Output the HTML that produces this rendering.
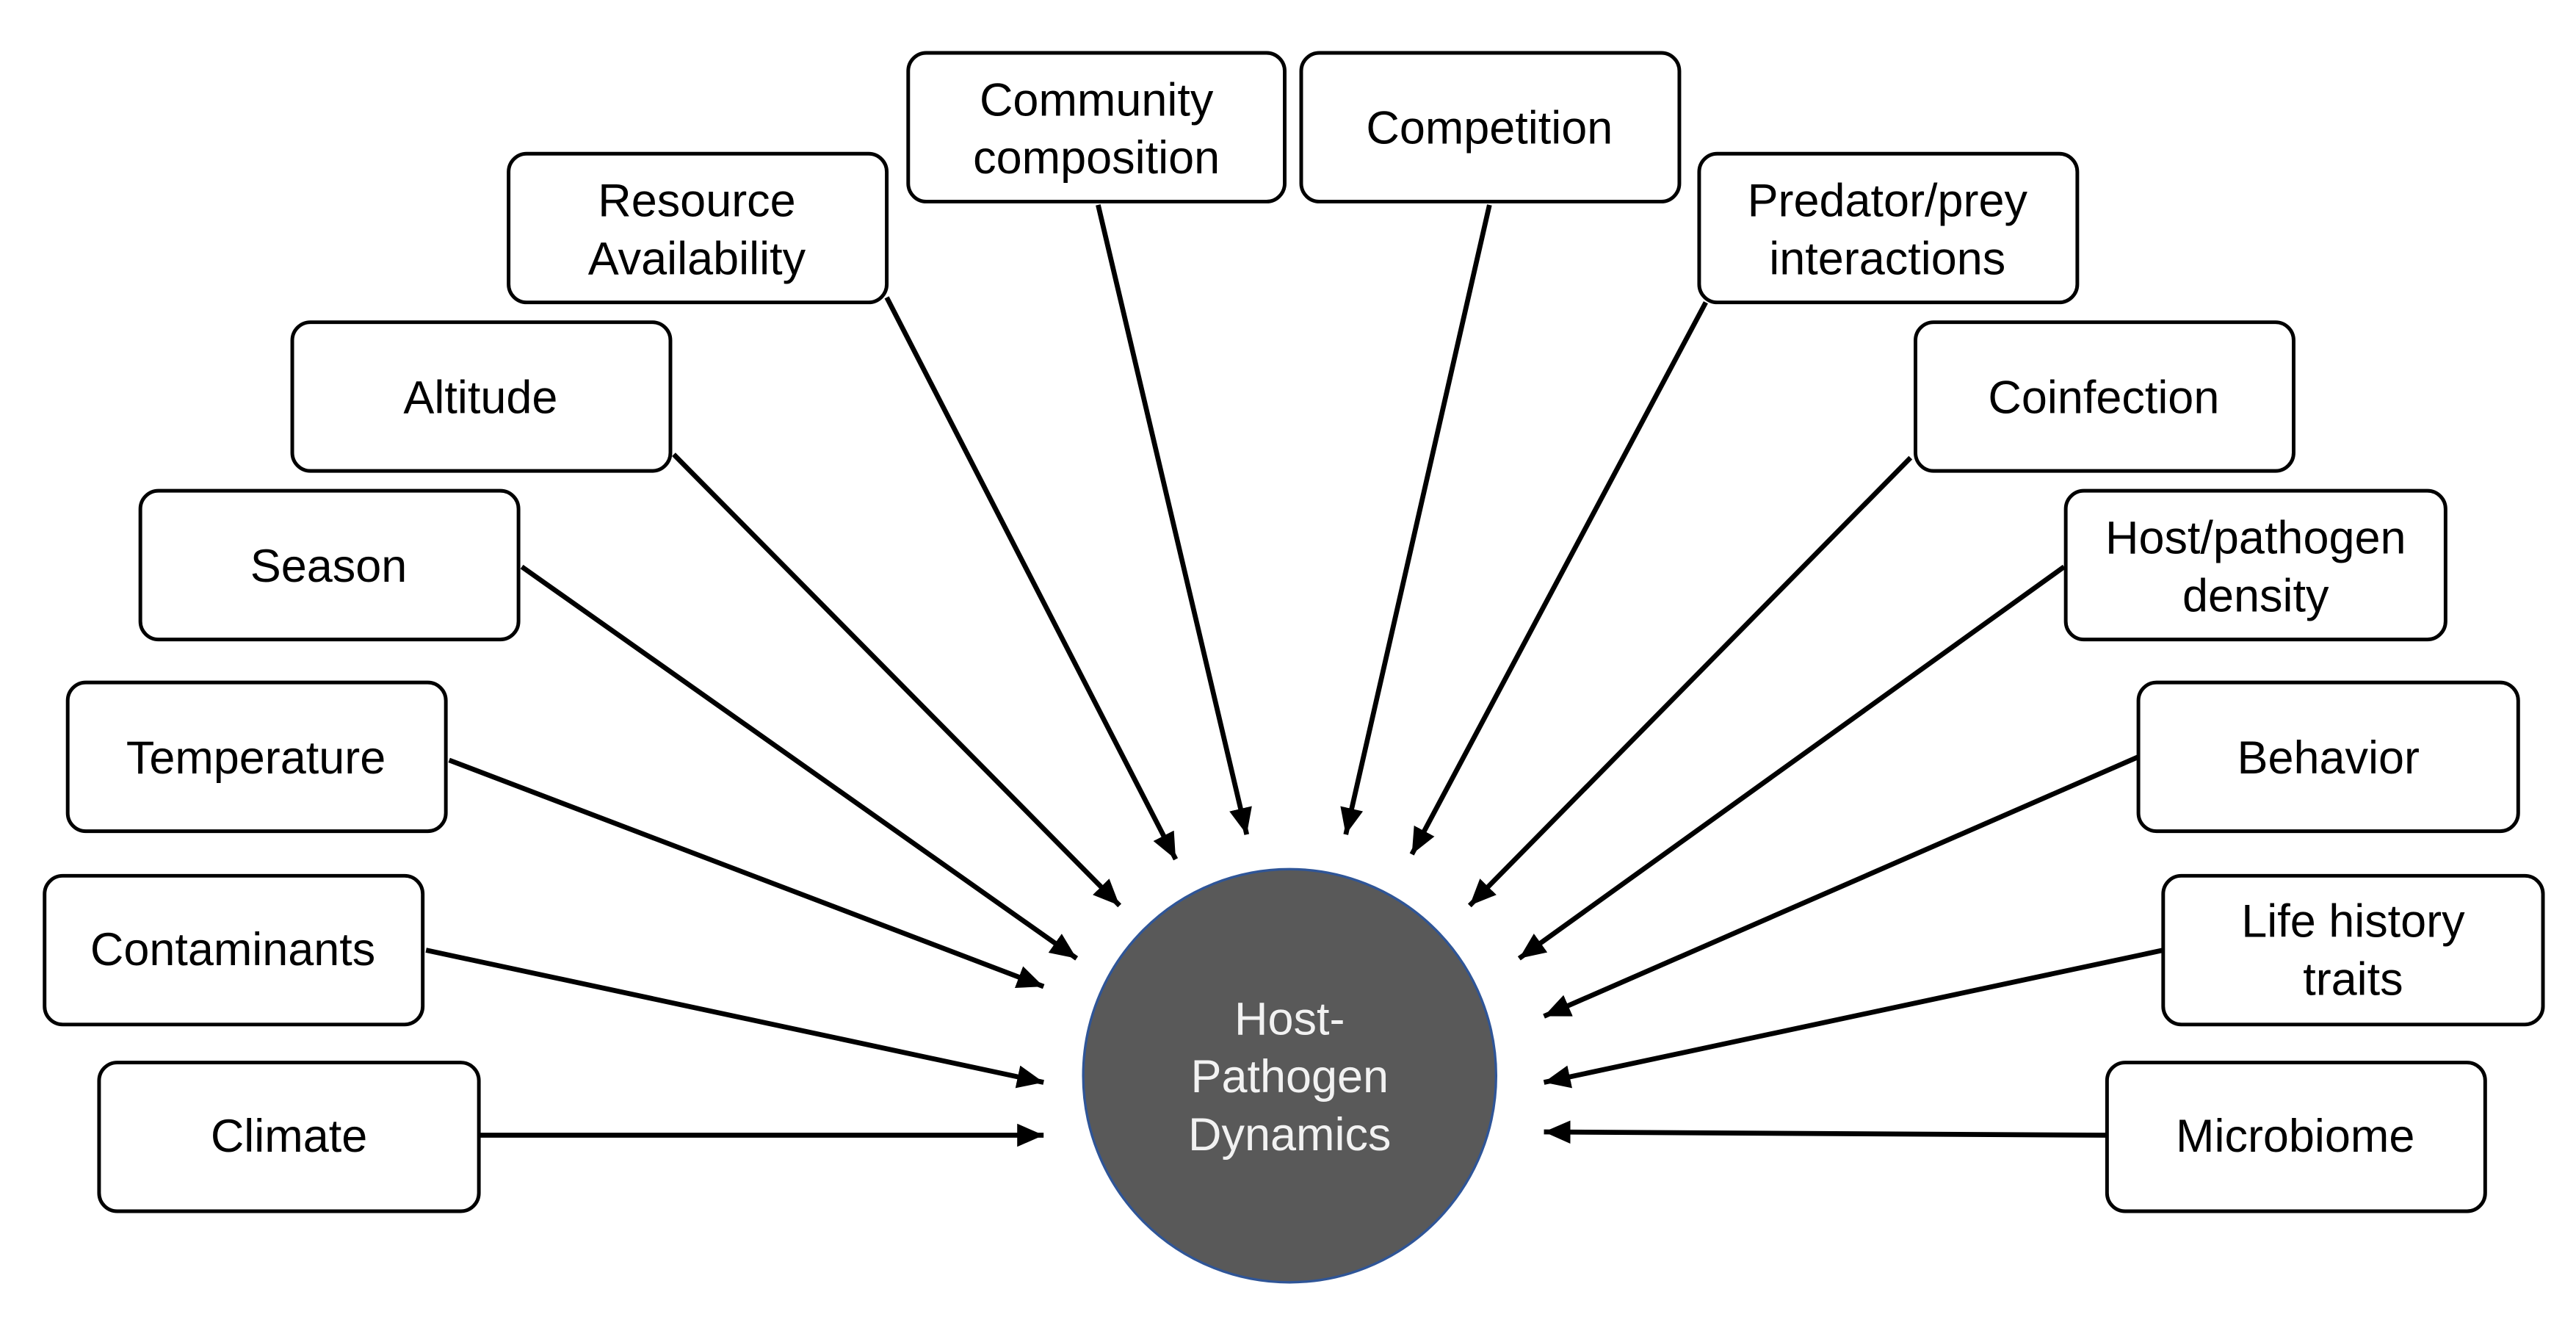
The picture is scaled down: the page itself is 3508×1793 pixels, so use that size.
<!DOCTYPE html>
<html><head><meta charset="utf-8"><style>html,body{margin:0;padding:0;background:#fff}svg{display:block}</style></head>
<body>
<svg width="3508" height="1793" viewBox="0 0 1560 797" preserveAspectRatio="none" xmlns="http://www.w3.org/2000/svg">
<defs>
<marker id="a" markerUnits="userSpaceOnUse" markerWidth="20" markerHeight="16" refX="16" refY="7" orient="auto">
<path d="M0,0 L16,7 L0,14 Z" fill="#000"/>
</marker>
</defs>
<g fill="#fff" stroke="#000" stroke-width="2.2">
<rect x="60" y="643" width="230" height="90" rx="11"/>
<rect x="27" y="530" width="229" height="90" rx="11"/>
<rect x="41" y="413" width="229" height="90" rx="11"/>
<rect x="85" y="297" width="229" height="90" rx="11"/>
<rect x="177" y="195" width="229" height="90" rx="11"/>
<rect x="308" y="93" width="229" height="90" rx="11"/>
<rect x="550" y="32" width="228" height="90" rx="11"/>
<rect x="788" y="32" width="229" height="90" rx="11"/>
<rect x="1029" y="93" width="229" height="90" rx="11"/>
<rect x="1160" y="195" width="229" height="90" rx="11"/>
<rect x="1251" y="297" width="230" height="90" rx="11"/>
<rect x="1295" y="413" width="230" height="90" rx="11"/>
<rect x="1310" y="530" width="230" height="90" rx="11"/>
<rect x="1276" y="643" width="229" height="90" rx="11"/>
</g>
<g stroke="#000" stroke-width="3" marker-end="url(#a)">
<line x1="290" y1="687" x2="632" y2="687"/>
<line x1="258" y1="575" x2="632" y2="655"/>
<line x1="272" y1="460" x2="632" y2="597"/>
<line x1="316" y1="343" x2="652" y2="580"/>
<line x1="408" y1="275" x2="678" y2="548"/>
<line x1="537" y1="180" x2="712" y2="520"/>
<line x1="665" y1="124" x2="755" y2="505"/>
<line x1="902" y1="124" x2="815" y2="505"/>
<line x1="1033" y1="183" x2="855" y2="517"/>
<line x1="1157" y1="277" x2="890" y2="548"/>
<line x1="1250" y1="343" x2="920" y2="580"/>
<line x1="1295" y1="458" x2="935" y2="615"/>
<line x1="1310" y1="575" x2="935" y2="655"/>
<line x1="1276" y1="687" x2="935" y2="685"/>
</g>
<circle cx="781" cy="651" r="125" fill="#595959" stroke="#2f5597" stroke-width="1.5"/>
<g font-family="Liberation Sans, sans-serif" font-size="28" text-anchor="middle" fill="#000">
<text x="175" y="697">Climate</text>
<text x="141" y="584">Contaminants</text>
<text x="155" y="468">Temperature</text>
<text x="199" y="352">Season</text>
<text x="291" y="250">Altitude</text>
<text x="422" y="131">Resource</text>
<text x="422" y="166">Availability</text>
<text x="664" y="70">Community</text>
<text x="664" y="105">composition</text>
<text x="902" y="87">Competition</text>
<text x="1143" y="131">Predator/prey</text>
<text x="1143" y="166">interactions</text>
<text x="1274" y="250">Coinfection</text>
<text x="1366" y="335">Host/pathogen</text>
<text x="1366" y="370">density</text>
<text x="1410" y="468">Behavior</text>
<text x="1425" y="567">Life history</text>
<text x="1425" y="602">traits</text>
<text x="1390" y="697">Microbiome</text>
</g>
<g font-family="Liberation Sans, sans-serif" font-size="28" text-anchor="middle" fill="#f2f2f2">
<text x="781" y="626">Host-</text>
<text x="781" y="661">Pathogen</text>
<text x="781" y="696">Dynamics</text>
</g>
</svg>
</body></html>
